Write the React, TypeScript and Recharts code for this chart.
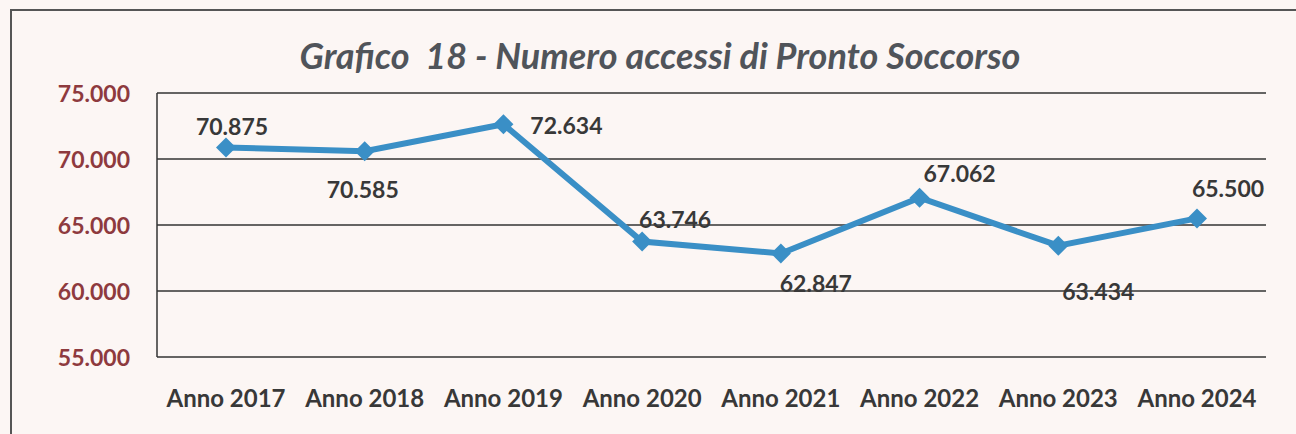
import { LineChart, Line, XAxis, YAxis, CartesianGrid, LabelList } from 'recharts';

const years = ['Anno 2017', 'Anno 2018', 'Anno 2019', 'Anno 2020', 'Anno 2021', 'Anno 2022', 'Anno 2023', 'Anno 2024'];
const accessi = [70875, 70585, 72634, 63746, 62847, 67062, 63434, 65500];
const yTicks = [55000, 60000, 65000, 70000, 75000];

// where each value label sits relative to its point
const labelOffsets: [number, number][] = [
  [6, -21], [-2, 38], [63, 1], [33, -23], [35, 30], [40, -25], [40, 45], [31, -30],
];

const data = years.map((anno, i) => ({ anno, accessi: accessi[i] }));

const fmt = (v: number) => String(v).replace(/\B(?=(\d{3})+(?!\d))/g, '.');

const FONT = 'Lato, "Open Sans", sans-serif';
const TEXT = '#383838';

function Diamond(props: any) {
  const { cx, cy, index } = props;
  if (cx == null || cy == null) return null;
  const r = 10;
  return (
    <path
      key={`d-${index}`}
      d={`M${cx},${cy - r} L${cx + r},${cy} L${cx},${cy + r} L${cx - r},${cy} Z`}
      fill="#3a8fc6"
    />
  );
}

function ValueLabel(props: any) {
  const { x, y, value, index } = props;
  const [dx, dy] = labelOffsets[index] || [0, -20];
  return (
    <text
      x={x + dx}
      y={y + dy}
      textAnchor="middle"
      dominantBaseline="central"
      fill={TEXT}
      fontFamily={FONT}
      fontWeight={700}
      fontSize={23}
    >
      {fmt(value)}
    </text>
  );
}

function XTick(props: any) {
  const { x, y, payload } = props;
  return (
    <text x={x} y={y + 40} textAnchor="middle" dominantBaseline="central" fill={TEXT}
      fontFamily={FONT} fontWeight={700} fontSize={24}>
      {payload.value}
    </text>
  );
}

function YTick(props: any) {
  const { x, y, payload } = props;
  return (
    <text x={x - 27} y={y} textAnchor="end" dominantBaseline="central" fill="#8e3a3e"
      fontFamily={FONT} fontWeight={700} fontSize={23}>
      {fmt(payload.value)}
    </text>
  );
}

export default function App() {
  return (
    <div style={{ position: 'absolute', left: 0, top: 0, width: 1296, height: 434, background: '#fcf6f4', overflow: 'hidden' }}>
      <div style={{ position: 'absolute', left: 10, top: 9, width: 1400, height: 500, borderLeft: '2px solid #555', borderTop: '2px solid #555' }} />
      <div
        style={{
          position: 'absolute', left: 0, top: 33, width: 1320, textAlign: 'center',
          fontFamily: FONT, fontStyle: 'italic', fontWeight: 700, fontSize: 36, color: '#50545a', whiteSpace: 'pre',
        }}
      >
        {'Grafico  18 - Numero accessi di Pronto Soccorso'}
      </div>
      <div style={{ position: 'absolute', left: 0, top: 0 }}>
        <LineChart width={1296} height={434} data={data} margin={{ top: 93, right: 30, left: 0, bottom: 37 }}>
          <CartesianGrid vertical={false} stroke="#333" strokeWidth={1.5} />
          <XAxis
            dataKey="anno"
            axisLine={false}
            tickLine={false}
            tickSize={0}
            tickMargin={0}
            height={40}
            padding={{ left: 69, right: 69 }}
            tick={<XTick />}
            interval={0}
          />
          <YAxis
            width={157}
            domain={[55000, 75000]}
            ticks={yTicks}
            axisLine={{ stroke: '#333', strokeWidth: 1.5 }}
            tickLine={false}
            tickSize={0}
            tickMargin={0}
            tick={<YTick />}
          />
          <Line
            type="linear"
            dataKey="accessi"
            stroke="#3a8fc6"
            strokeWidth={6}
            dot={<Diamond />}
            activeDot={false}
            isAnimationActive={false}
          >
            <LabelList dataKey="accessi" content={<ValueLabel />} />
          </Line>
        </LineChart>
      </div>
    </div>
  );
}
